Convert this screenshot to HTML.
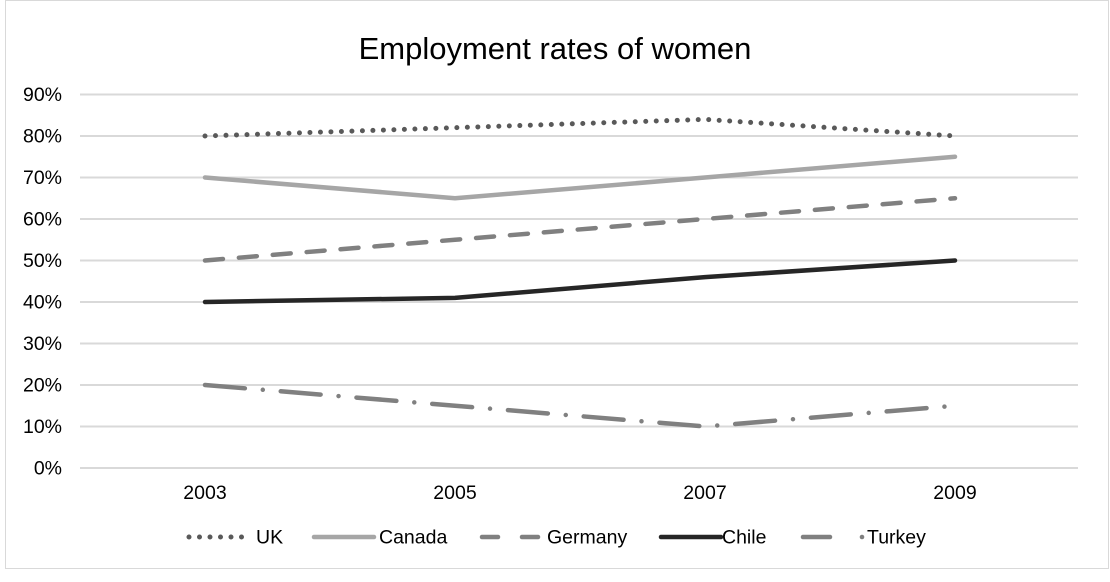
<!DOCTYPE html>
<html><head><meta charset="utf-8"><style>
html,body{margin:0;padding:0;background:#fff;}
svg{display:block;font-family:"Liberation Sans",Arial,sans-serif;}
</style></head><body>
<svg width="1110" height="582" viewBox="0 0 1110 582">
<rect x="5.5" y="0.5" width="1103" height="568" fill="#fff" stroke="#d9d9d9" stroke-width="1"/>
<text x="555" y="59" font-size="31" text-anchor="middle" fill="#000">Employment rates of women</text>
<g stroke="#d9d9d9" stroke-width="2">
<line x1="80" y1="94.5" x2="1078" y2="94.5"/>
<line x1="80" y1="136" x2="1078" y2="136"/>
<line x1="80" y1="177.5" x2="1078" y2="177.5"/>
<line x1="80" y1="219" x2="1078" y2="219"/>
<line x1="80" y1="260.5" x2="1078" y2="260.5"/>
<line x1="80" y1="302" x2="1078" y2="302"/>
<line x1="80" y1="343.5" x2="1078" y2="343.5"/>
<line x1="80" y1="385" x2="1078" y2="385"/>
<line x1="80" y1="426.5" x2="1078" y2="426.5"/>
<line x1="80" y1="468" x2="1078" y2="468"/>
</g>
<g font-size="19.5" fill="#000" text-anchor="end">
<text x="62" y="101">90%</text><text x="62" y="142.5">80%</text><text x="62" y="184">70%</text>
<text x="62" y="225.5">60%</text><text x="62" y="267">50%</text><text x="62" y="308.5">40%</text>
<text x="62" y="350">30%</text><text x="62" y="391.5">20%</text><text x="62" y="433">10%</text>
<text x="62" y="474.5">0%</text>
</g>
<g font-size="19.5" fill="#000" text-anchor="middle">
<text x="205" y="499">2003</text><text x="455" y="499">2005</text><text x="705" y="499">2007</text><text x="955" y="499">2009</text>
</g>
<g fill="none" stroke-linecap="round" stroke-linejoin="round">
<polyline points="205,136 455,127.7 705,119.4 955,136" stroke="#595959" stroke-width="5" stroke-dasharray="0 10.5"/>
<polyline points="205,177.5 455,198.25 705,177.5 955,156.75" stroke="#a6a6a6" stroke-width="4.5"/>
<polyline points="205,260.5 455,239.75 705,219 955,198.25" stroke="#808080" stroke-width="4.5" stroke-dasharray="18 16"/>
<polyline points="205,302 455,297.85 705,277.1 955,260.5" stroke="#262626" stroke-width="4.5"/>
<polyline points="205,385 455,405.75 705,426.5 955,405.75" stroke="#808080" stroke-width="4.5" stroke-dasharray="40 18 0 18"/>
</g>
<g font-size="19.5" fill="#000" stroke-linecap="round">
<line x1="189" y1="537" x2="245" y2="537" stroke="#595959" stroke-width="5" stroke-dasharray="0 10.5"/>
<text x="256" y="543.5">UK</text>
<line x1="314" y1="537" x2="374" y2="537" stroke="#a6a6a6" stroke-width="4.5"/>
<text x="379" y="543.5">Canada</text>
<line x1="482" y1="537" x2="498" y2="537" stroke="#808080" stroke-width="4.5"/>
<line x1="522" y1="537" x2="538" y2="537" stroke="#808080" stroke-width="4.5"/>
<text x="547" y="543.5">Germany</text>
<line x1="661" y1="537" x2="721" y2="537" stroke="#262626" stroke-width="4.5"/>
<text x="722" y="543.5">Chile</text>
<line x1="803" y1="537" x2="830" y2="537" stroke="#808080" stroke-width="4.5"/>
<circle cx="862" cy="537" r="2.3" fill="#808080"/>
<text x="867" y="543.5">Turkey</text>
</g>
</svg>
</body></html>
